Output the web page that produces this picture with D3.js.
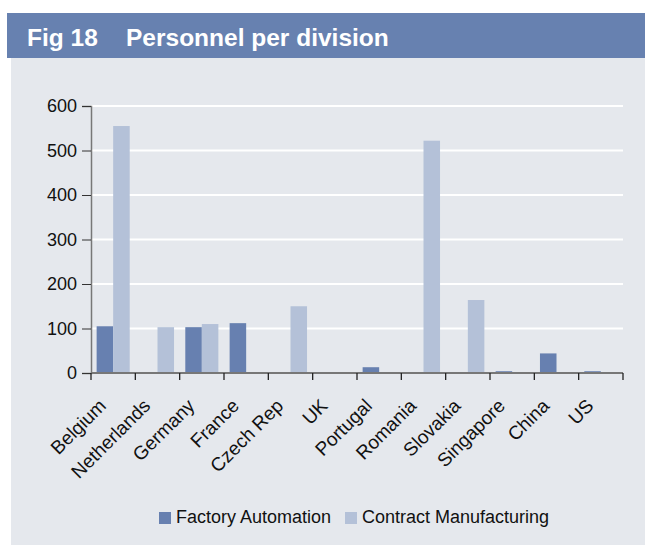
<!DOCTYPE html>
<html>
<head>
<meta charset="utf-8">
<script src="https://cdn.jsdelivr.net/npm/d3@7"></script>
<style>
  html, body { margin: 0; padding: 0; background: #fff; }
  svg { display: block; }
  text { font-family: "Liberation Sans", Arial, sans-serif; }
</style>
</head>
<body>
<svg id="chart" width="645" height="545"></svg>
<script>
// Personnel per division, by country
const countries = ["Belgium", "Netherlands", "Germany", "France", "Czech Rep", "UK",
                   "Portugal", "Romania", "Slovakia", "Singapore", "China", "US"];
const factoryAutomation    = [105, 0, 103, 112, 0, 2, 13, 0, 0, 4, 44, 4];
const contractManufacturing = [555, 103, 110, 0, 150, 0, 0, 522, 164, 0, 0, 0];
const seriesNames = ["Factory Automation", "Contract Manufacturing"];
const seriesColors = ["#6780b0", "#b4c1d8"];
const yTicks = [0, 100, 200, 300, 400, 500, 600];

const svg = d3.select("#chart");

// background panel and title band
svg.append("rect").attr("x", 11).attr("y", 58).attr("width", 634).attr("height", 487).attr("fill", "#e5e8ed");
svg.append("rect").attr("x", 7).attr("y", 13).attr("width", 638).attr("height", 45).attr("fill", "#6781b0");
const title = svg.append("g").attr("fill", "#fff").attr("font-size", 24.5).attr("font-weight", "bold");
title.append("text").attr("x", 27).attr("y", 46).text("Fig 18");
title.append("text").attr("x", 126).attr("y", 46).text("Personnel per division");

const plotLeft = 91, plotRight = 623, plotTop = 106, plotBottom = 373;

const x = d3.scaleBand().domain(countries).range([plotLeft, plotRight]).paddingInner(0).paddingOuter(0);
const xs = d3.scaleBand().domain(seriesNames).range([0, x.bandwidth()]).paddingInner(0).paddingOuter(0.34);
const y = d3.scaleLinear().domain([0, 600]).range([plotBottom, plotTop]);

// gridlines
svg.append("g").selectAll("line").data(yTicks.slice(1)).join("line")
  .attr("x1", plotLeft).attr("x2", plotRight)
  .attr("y1", d => y(d)).attr("y2", d => y(d))
  .attr("stroke", "#fff").attr("stroke-width", 2);

// bars
const rows = countries.map((c, i) => ({ c, vals: [factoryAutomation[i], contractManufacturing[i]] }));
const groups = svg.append("g").selectAll("g").data(rows).join("g")
  .attr("transform", d => `translate(${x(d.c)},0)`);
groups.selectAll("rect").data(d => d.vals.map((v, k) => ({ v, k })).filter(e => e.v > 0)).join("rect")
  .attr("x", e => xs(seriesNames[e.k]))
  .attr("width", xs.bandwidth())
  .attr("y", e => y(e.v))
  .attr("height", e => y(0) - y(e.v))
  .attr("fill", e => seriesColors[e.k]);

// y axis
const yAxis = svg.append("g").attr("transform", `translate(${plotLeft},0)`)
  .call(d3.axisLeft(y).tickValues(yTicks).tickSize(9).tickPadding(5));
yAxis.select(".domain").attr("stroke", "#777").attr("stroke-width", 1.5);
yAxis.selectAll(".tick line").attr("stroke", "#333");
yAxis.selectAll(".tick text").attr("font-size", 18).attr("fill", "#111")
  .attr("font-family", "Liberation Sans, Arial, sans-serif");

// x axis: ticks at category boundaries
const xAxisG = svg.append("g");
xAxisG.append("line").attr("x1", plotLeft).attr("x2", plotRight).attr("y1", plotBottom).attr("y2", plotBottom)
  .attr("stroke", "#777").attr("stroke-width", 2);
const bounds = countries.map(c => x(c)).concat([plotRight]);
xAxisG.selectAll(".bt").data(bounds).join("line")
  .attr("x1", d => d).attr("x2", d => d).attr("y1", plotBottom).attr("y2", plotBottom + 7)
  .attr("stroke", "#222").attr("stroke-width", 1.3);
xAxisG.selectAll("text").data(countries).join("text")
  .attr("transform", d => `translate(${x(d) + x.bandwidth() / 2 - 6},${plotBottom + 34}) rotate(-45)`)
  .attr("text-anchor", "end")
  .attr("font-size", 19).attr("fill", "#111")
  .text(d => d);

// legend
const legend = svg.append("g").attr("transform", "translate(159,512)");
const items = [{ n: seriesNames[0], c: seriesColors[0], x: 0 }, { n: seriesNames[1], c: seriesColors[1], x: 186 }];
const li = legend.selectAll("g").data(items).join("g").attr("transform", d => `translate(${d.x},0)`);
li.append("rect").attr("x", 0).attr("y", 0).attr("width", 12).attr("height", 12).attr("fill", d => d.c);
li.append("text").attr("x", 17).attr("y", 11).attr("font-size", 18).attr("fill", "#111").text(d => d.n);
</script>
</body>
</html>
